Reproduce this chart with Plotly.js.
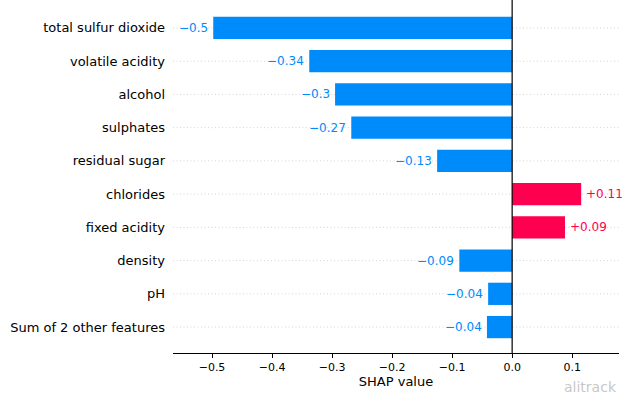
<!DOCTYPE html>
<html><head><meta charset="utf-8">
<script src="https://cdn.plot.ly/plotly-3.0.1.min.js"></script>
<style>html,body{margin:0;padding:0;background:#fff;}#chart{width:640px;height:396px;}</style>
</head><body><div id="chart"></div>
<script>
const features = ["total sulfur dioxide","volatile acidity","alcohol","sulphates","residual sugar","chlorides","fixed acidity","density","pH","Sum of 2 other features"];
const shapValues = [-0.498,-0.338,-0.295,-0.268,-0.125,0.115,0.088,-0.088,-0.040,-0.042];
const valueLabels = ["\u22120.5","\u22120.34","\u22120.3","\u22120.27","\u22120.13","+0.11","+0.09","\u22120.09","\u22120.04","\u22120.04"];
const xTicks = [-0.5,-0.4,-0.3,-0.2,-0.1,0.0,0.1];
const xTickText = ["\u22120.5","\u22120.4","\u22120.3","\u22120.2","\u22120.1","0.0","0.1"];

const BLUE = "#008bfb", RED = "#ff0051";
const idx = features.map((_, i) => i);
const colors = shapValues.map(v => v < 0 ? BLUE : RED);

const shapes = [];
idx.forEach(i => shapes.push({type:"line", xref:"paper", yref:"y", x0:0, x1:1, y0:i, y1:i,
  line:{color:"#d4d4d4", width:1, dash:"1px,2.5px"}, layer:"below"}));
shapes.push({type:"line", xref:"x", yref:"paper", x0:0, x1:0, y0:0, y1:1, line:{color:"#000", width:1.2}, layer:"above"});

const annotations = idx.map(i => ({
  x: shapValues[i], y: i, xref:"x", yref:"y", text: valueLabels[i], showarrow:false,
  xanchor: shapValues[i] < 0 ? "right" : "left", xshift: shapValues[i] < 0 ? -3 : 3,
  font:{family:"DejaVu Sans", size:12, color: colors[i]}
}));
annotations.push({xref:"paper", yref:"paper", x:1, y:0, yshift:-34, xanchor:"right", yanchor:"middle",
  text:"alitrack", showarrow:false, font:{family:"DejaVu Sans", size:14, color:"rgba(160,160,160,0.6)"}});

const trace = {type:"bar", orientation:"h", x: shapValues, y: idx, width:0.67,
  marker:{color: colors, line:{width:0}}, hoverinfo:"skip"};

const layout = {
  width:640, height:396, margin:{l:173, r:21, t:0, b:43},
  paper_bgcolor:"#fff", plot_bgcolor:"#fff", showlegend:false,
  font:{family:"DejaVu Sans", color:"#000"},
  xaxis:{range:[-0.565,0.178], tickvals:xTicks, ticktext:xTickText, showgrid:false, zeroline:false,
    showline:true, linecolor:"#000", linewidth:1, ticks:"outside", ticklen:3.5, tickcolor:"#000",
    tickfont:{size:11, color:"#000"}, title:{text:"SHAP value", font:{size:13, color:"#000"}, standoff:4}},
  yaxis:{range:[9.78,-0.84], tickvals:idx, ticktext:features, showgrid:false, zeroline:false,
    showline:false, ticks:"", ticklabelstandoff:7, tickfont:{size:13, color:"#000"}},
  shapes: shapes, annotations: annotations
};
Plotly.newPlot("chart", [trace], layout, {displayModeBar:false, staticPlot:true});
</script></body></html>
